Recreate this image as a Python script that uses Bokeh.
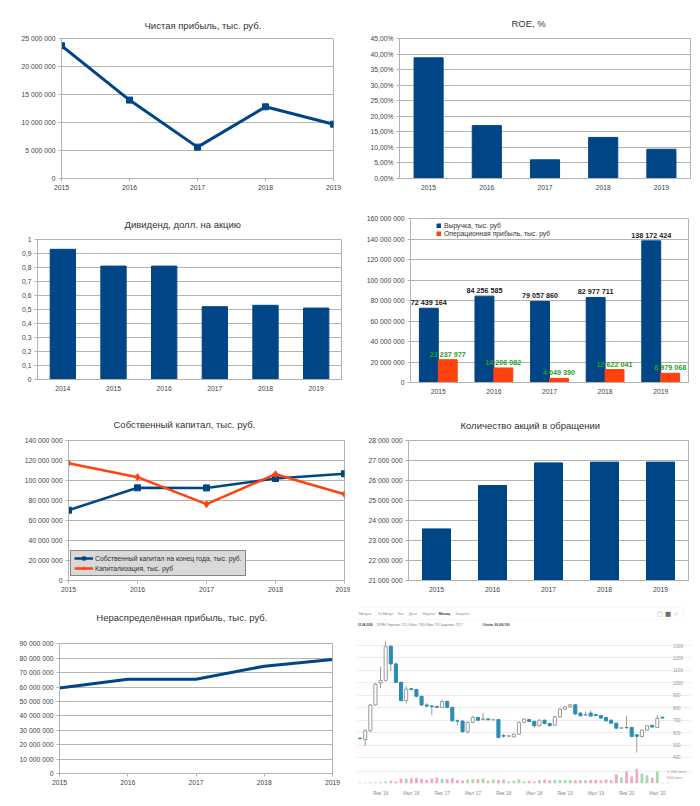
from bokeh.plotting import figure
from bokeh.layouts import column, row
from bokeh.models import (ColumnDataSource, FactorRange, Range1d, FixedTicker, LinearAxis, BoxAnnotation,
                          CustomJSTickFormatter, Legend, LegendItem, LabelSet, Label, Grid)
from bokeh.transform import dodge
from bokeh.embed import file_html
from bokeh.resources import INLINE
from bokeh.core.properties import value

# ---------------- data ----------------
years = ["2015", "2016", "2017", "2018", "2019"]
year_nums = [2015, 2016, 2017, 2018, 2019]
net_profit = [23_700_000, 14_000_000, 5_600_000, 12_800_000, 9_700_000]
roe_pct = [38.8, 17.0, 6.0, 13.2, 9.4]
div_years = ["2014", "2015", "2016", "2017", "2018", "2019"]
dividend = [0.93, 0.81, 0.81, 0.52, 0.53, 0.51]
revenue = [72_439_164, 84_256_585, 79_057_860, 82_977_711, 138_172_424]
op_profit = [22_237_977, 14_206_082, 4_049_390, 12_622_041, 8_979_068]
equity = [70_300_000, 92_700_000, 92_600_000, 102_000_000, 106_700_000]
market_cap = [117_300_000, 103_300_000, 76_300_000, 106_300_000, 86_300_000]
shares = [23_580_000, 25_750_000, 26_880_000, 26_920_000, 26_920_000]
retained = [59_400_000, 65_400_000, 65_500_000, 74_500_000, 79_100_000]

# monthly candles (price) and volume (mln)
c_open = [555, 545, 615, 822, 1000, 1020, 1295, 1152, 1004, 857, 952, 946, 892, 822, 814, 810, 803, 851, 803, 695,
          693, 607, 682, 722, 705, 710, 703, 705, 575, 572, 566, 588, 682, 705, 690, 655, 700, 674, 660, 727,
          789, 808, 824, 757, 740, 757, 745, 738, 722, 700, 676, 636, 641, 641, 582, 569, 620, 658, 641, 724]
c_close = [552, 615, 822, 990, 1020, 1290, 1152, 1004, 857, 950, 946, 892, 822, 814, 810, 803, 851, 803, 695, 693,
           607, 682, 722, 700, 710, 703, 705, 561, 572, 574, 588, 682, 709, 690, 655, 700, 674, 655, 727, 789,
           808, 824, 750, 735, 745, 733, 738, 717, 695, 676, 636, 638, 640, 569, 570, 620, 655, 645, 714, 718]
c_high = [560, 625, 830, 1000, 1130, 1335, 1300, 1165, 1010, 975, 960, 952, 895, 838, 822, 815, 865, 858, 808, 705,
          698, 690, 735, 728, 760, 715, 710, 708, 590, 580, 592, 690, 715, 708, 695, 705, 705, 678, 735, 795,
          812, 830, 828, 765, 768, 780, 752, 742, 726, 705, 680, 640, 735, 645, 590, 625, 660, 662, 740, 725]
c_low = [545, 495, 605, 815, 960, 1010, 1095, 1000, 850, 835, 940, 885, 815, 800, 740, 798, 798, 795, 690, 655,
         600, 590, 675, 690, 700, 700, 698, 555, 560, 565, 560, 580, 680, 685, 640, 650, 665, 650, 655, 720,
         780, 800, 745, 730, 735, 730, 735, 712, 690, 670, 632, 630, 630, 565, 440, 560, 615, 640, 638, 710]
volume = [55, 55, 80, 80, 110, 170, 220, 170, 420, 390, 440, 470, 390, 300, 420, 500, 390, 360, 440, 300,
          250, 330, 360, 360, 420, 220, 330, 300, 330, 170, 220, 360, 170, 220, 170, 300, 330, 280, 300, 300,
          280, 300, 280, 280, 280, 300, 300, 280, 330, 280, 750, 500, 1030, 580, 1220, 830, 690, 500, 1000, 60]
month_tick_idx = [4, 10, 16, 22, 28, 34, 40, 46, 52, 58]
month_tick_labels = ["Янв '16", "Июл '16", "Янв '17", "Июл '17", "Янв '18", "Июл '18",
                     "Янв '19", "Июл '19", "Янв '20", "Июл '20"]
price_ticks = [400, 500, 600, 700, 800, 900, 1000, 1100, 1200, 1300]
vol_ticks = [0, 500, 1000]
vol_tick_labels = ["0", "500 млн", "1 000 млн"]

# ---------------- styles ----------------
FONT = "Liberation Sans"
BLUE = "#004586"
ORANGE = "#ff420e"
GRID = "#b3b3b3"
TICK_TXT = "#444444"
TITLE_TXT = "#333333"

SPACED = "return Math.round(tick).toString().replace(/\\B(?=(\\d{3})+(?!\\d))/g, ' ');"
PCT = "return tick.toFixed(2).replace('.', ',') + '%';"
DEC = "return (Math.round(tick * 10) / 10).toString().replace('.', ',');"


def make_fig(width, height, left, right, top, bottom, **kw):
    p = figure(width=width, height=height, output_backend="svg", toolbar_location=None,
               min_border_left=left, min_border_right=right,
               min_border_top=top, min_border_bottom=bottom, frame_align=False, **kw)
    p.border_fill_color = "white"
    p.background_fill_color = "white"
    return p


def style_office(p, yticks, fmt_code, title=None, t_offset=0, t_standoff=10, categorical=False):
    p.outline_line_color = GRID
    p.xgrid.grid_line_color = None
    p.ygrid.grid_line_color = GRID
    p.yaxis.ticker = FixedTicker(ticks=yticks)
    p.yaxis.formatter = CustomJSTickFormatter(code=fmt_code)
    for ax in p.axis:
        ax.axis_line_color = GRID
        ax.major_tick_line_color = GRID
        ax.major_tick_in = 0
        ax.major_tick_out = 3
        ax.minor_tick_line_color = None
        ax.major_label_text_font = FONT
        ax.major_label_text_font_size = "6.8px"
        ax.major_label_text_color = TICK_TXT
        ax.major_label_standoff = 3
    if categorical:
        p.xaxis.major_tick_line_color = None
    if title is not None:
        p.title.text = title
        p.title.align = "left"
        p.title.offset = t_offset
        p.title.standoff = t_standoff
        p.title.vertical_align = "top"
        p.title.text_font = FONT
        p.title.text_font_size = "9.5px"
        p.title.text_font_style = "normal"
        p.title.text_color = TITLE_TXT


# ---- 1: net profit line ----
p1 = make_fig(350, 200, 61, 17, 38, 22, x_range=Range1d(2015, 2019), y_range=Range1d(0, 25_000_000))
p1.line(year_nums, net_profit, line_color=BLUE, line_width=3)
p1.scatter(year_nums, net_profit, marker="square", size=6, color=BLUE)
style_office(p1, list(range(0, 25_000_001, 5_000_000)), SPACED, "Чистая прибыль, тыс. руб.", 83, 11)
p1.xaxis.ticker = FixedTicker(ticks=year_nums)

# ---- 2: ROE bars ----
p2 = make_fig(342, 200, 49, 2, 38, 22, x_range=FactorRange(*years), y_range=Range1d(0, 45))
p2.vbar(x=years, top=roe_pct, width=0.5, color=BLUE)
style_office(p2, list(range(0, 46, 5)), PCT, "ROE, %", 112, 16, categorical=True)

# ---- 3: dividend bars ----
p3 = make_fig(350, 200, 37, 9, 39, 21, x_range=FactorRange(*div_years), y_range=Range1d(0, 1))
p3.vbar(x=div_years, top=dividend, width=0.5, color=BLUE)
style_office(p3, [i / 10 for i in range(11)], DEC, "Дивиденд, долл. на акцию", 87, 15, categorical=True)

# ---- 4: revenue / operating profit ----
src4 = ColumnDataSource(dict(
    year=years, revenue=revenue, op=op_profit,
    rev_txt=[f"{v:,}".replace(",", " ") for v in revenue],
    op_txt=[f"{v:,}".replace(",", " ") for v in op_profit]))
p4 = make_fig(342, 200, 60, 4, 18, 18, x_range=FactorRange(*years), y_range=Range1d(0, 160_000_000), title=None)
r_rev = p4.vbar(x=dodge("year", -0.17, range=p4.x_range), top="revenue", width=0.34, source=src4, color=BLUE)
r_op = p4.vbar(x=dodge("year", 0.17, range=p4.x_range), top="op", width=0.34, source=src4, color=ORANGE)
style_office(p4, list(range(0, 160_000_001, 20_000_000)), SPACED, categorical=True)
p4.add_layout(LabelSet(x=dodge("year", -0.17, range=p4.x_range), y="revenue", text="rev_txt", source=src4,
                       text_align="center", text_baseline="bottom", y_offset=1,
                       text_font=value(FONT), text_font_size="7.2px", text_font_style="bold",
                       text_color="#1a1a1a"))
p4.add_layout(LabelSet(x=dodge("year", 0.17, range=p4.x_range), y="op", text="op_txt", source=src4,
                       text_align="center", text_baseline="bottom", y_offset=1,
                       text_font=value(FONT), text_font_size="7.2px", text_font_style="bold",
                       text_color="#1ea01e"))
leg4 = Legend(items=[LegendItem(label="Выручка, тыс. руб", renderers=[r_rev]),
                     LegendItem(label="Операционная прибыль, тыс. руб", renderers=[r_op])],
              location=(26, 145), glyph_width=5, glyph_height=5, label_height=6, label_standoff=3,
              spacing=1, padding=0, margin=0, border_line_color=None, background_fill_alpha=0,
              label_text_font=FONT, label_text_font_size="6.8px", label_text_color=TITLE_TXT)
p4.add_layout(leg4)

# ---- 5: equity vs capitalization ----
p5 = make_fig(350, 200, 68, 6, 40, 20, x_range=Range1d(2015, 2019), y_range=Range1d(0, 140_000_000))
l_eq = p5.line(year_nums, equity, line_color=BLUE, line_width=2.5)
s_eq = p5.scatter(year_nums, equity, marker="square", size=6, color=BLUE)
l_mc = p5.line(year_nums, market_cap, line_color=ORANGE, line_width=2.5)
s_mc = p5.scatter(year_nums, market_cap, marker="diamond", size=7, color=ORANGE)
style_office(p5, list(range(0, 140_000_001, 20_000_000)), SPACED, "Собственный капитал, тыс. руб.", 45, 17)
p5.xaxis.ticker = FixedTicker(ticks=year_nums)
leg5 = Legend(items=[LegendItem(label="Собственный капитал на конец года, тыс. руб.", renderers=[l_eq, s_eq]),
                     LegendItem(label="Капитализация, тыс. руб", renderers=[l_mc, s_mc])],
              location=(2, 4), glyph_width=19, glyph_height=8, label_height=8, label_standoff=2,
              spacing=2, padding=3, margin=0, border_line_color="#333333", border_line_width=1,
              background_fill_color="#d9d9d9", background_fill_alpha=1,
              label_text_font=FONT, label_text_font_size="6.8px", label_text_color=TITLE_TXT)
p5.add_layout(leg5)

# ---- 6: shares outstanding ----
p6 = make_fig(342, 200, 58, 4, 40, 20, x_range=FactorRange(*years), y_range=Range1d(21_000_000, 28_000_000))
p6.vbar(x=years, top=shares, bottom=p6.y_range.start, width=0.5, color=BLUE)
style_office(p6, list(range(21_000_000, 28_000_001, 1_000_000)), SPACED, "Количество акций в обращении",
             52, 16, categorical=True)

# ---- 7: retained earnings (frame reaches up to the title; wall drawn 0..90M) ----
p7 = make_fig(350, 198, 59, 18, 11, 25, x_range=Range1d(2015, 2019), y_range=Range1d(0, 112_470_000), title=None)
p7.line(year_nums, retained, line_color=BLUE, line_width=3)
style_office(p7, list(range(0, 90_000_001, 10_000_000)), SPACED)
p7.xaxis.ticker = FixedTicker(ticks=year_nums)
p7.outline_line_color = None
p7.yaxis.bounds = (0, 90_000_000)
p7.add_layout(LinearAxis(ticker=FixedTicker(ticks=[]), bounds=(0, 90_000_000), axis_line_color=GRID,
                         major_tick_line_color=None, minor_tick_line_color=None,
                         major_tick_out=0, major_label_standoff=0), "right")
p7.add_layout(Label(x=2015.54, y=108_500_000, text="Нераспределённая прибыль, тыс. руб.", text_align="left",
                    text_baseline="middle", text_font=FONT, text_font_size="9.5px", text_color=TITLE_TXT))

# ---- 8: candlestick screenshot ----
n = len(c_open)
idx = list(range(n))
up = [c >= o for o, c in zip(c_open, c_close)]
BEAR = "#2a8db4"
src8 = ColumnDataSource(dict(
    i=idx, high=c_high, low=c_low,
    top=[max(o, c) for o, c in zip(c_open, c_close)],
    bot=[min(o, c) for o, c in zip(c_open, c_close)],
    fill=["white" if u else BEAR for u in up],
    line=["#9a9a9a" if u else BEAR for u in up],
    vol=volume,
    vcol=["#a3dcae" if u else "#f3a9c6" for u in up]))
x_end = n - 0.7
p8 = make_fig(342, 198, 7, 2, 0, 15, x_range=Range1d(-0.5, n + 4.48), y_range=Range1d(191, 1662),
              y_axis_location="right", title=None)
p8.extra_y_ranges = {"vol": Range1d(0, 15250)}
p8.outline_line_color = None
p8.xgrid.grid_line_color = None
p8.ygrid.ticker = FixedTicker(ticks=price_ticks)
p8.ygrid.grid_line_color = "#ececec"
p8.add_layout(Grid(dimension=1, ticker=FixedTicker(ticks=[vol_ticks[0], vol_ticks[-1]]), y_range_name="vol",
                   grid_line_color="#ececec"))
p8.segment(x0="i", y0="low", x1="i", y1="high", source=src8, line_color="#9a9a9a", line_width=1)
p8.vbar(x="i", top="top", bottom="bot", width=0.6, source=src8, fill_color="fill", line_color="line")
p8.vbar(x="i", top="vol", bottom=0, width=0.55, source=src8, fill_color="vcol", line_color=None,
        y_range_name="vol")
p8.yaxis.ticker = FixedTicker(ticks=price_ticks)
p8.yaxis.fixed_location = x_end
p8.yaxis.axis_line_color = None
p8.yaxis.major_tick_line_color = None
p8.yaxis.minor_tick_line_color = None
p8.yaxis.major_label_text_font = FONT
p8.yaxis.major_label_text_font_size = "4.5px"
p8.yaxis.major_label_text_color = "#999999"
p8.yaxis.major_label_standoff = 3
p8.xaxis.ticker = FixedTicker(ticks=month_tick_idx)
p8.xaxis.major_label_overrides = dict(zip(month_tick_idx, month_tick_labels))
p8.xaxis.axis_line_color = None
p8.xaxis.major_tick_line_color = None
p8.xaxis.minor_tick_line_color = None
p8.xaxis.major_label_text_font = FONT
p8.xaxis.major_label_text_font_size = "4.5px"
p8.xaxis.major_label_text_color = "#888888"
p8.xaxis.major_label_standoff = 1
for v, t in zip(vol_ticks, vol_tick_labels):
    p8.add_layout(Label(x=x_end + 0.55, y=v, y_range_name="vol", text=t, text_font=FONT, text_font_size="4.2px",
                        text_color="#999999", text_baseline="middle"))
# header of the screenshot: tab bar box, tabs, icons, info line
p8.add_layout(BoxAnnotation(left=-0.45, right=63.1, bottom=1509, top=1607, fill_alpha=0,
                            line_color="#e3e3e3", line_width=1))
tabs = [("Минута", -0.25, "normal"), ("10 Минут", 3.45, "normal"), ("Час", 7.36, "normal"),
        ("День", 9.5, "normal"), ("Неделя", 12.2, "normal"), ("Месяц", 15.36, "bold"),
        ("Квартал", 18.67, "normal")]
for t, x, st in tabs:
    p8.add_layout(Label(x=x, y=1557, text=t, text_font=FONT, text_font_size="3.6px", text_font_style=st,
                        text_color="#333333" if st == "bold" else "#8a8a8a", text_baseline="middle"))
icons = [("□", 58.5, "#b0b0b0"), ("■", 60.1, "#6f6f6f"), ("✓", 61.7, "#b0b0b0")]
for t, x, col in icons:
    p8.add_layout(Label(x=x, y=1557, text=t, text_font="DejaVu Sans", text_font_size="6.5px",
                        text_color=col, text_baseline="middle", text_align="center"))
info = [("01.08.2020", -0.45, "bold", "#333333"), ("ЛСРБ", 3.26, "normal", "#3a7fc0"),
        ("/ Открытие: 721,5  Макс: 738,0  Мин: 713  Закрытие: 737,7", 4.8, "normal", "#777777"),
        ("Объём: 96 606 590", 23.9, "bold", "#444444")]
for t, x, st, col in info:
    p8.add_layout(Label(x=x, y=1469, text=t, text_font=FONT, text_font_size="3px", text_font_style=st,
                        text_color=col, text_baseline="middle"))

layout = column(row(p1, p2), row(p3, p4), row(p5, p6), row(p7, p8))
open("out.html", "w").write(file_html(layout, INLINE))
